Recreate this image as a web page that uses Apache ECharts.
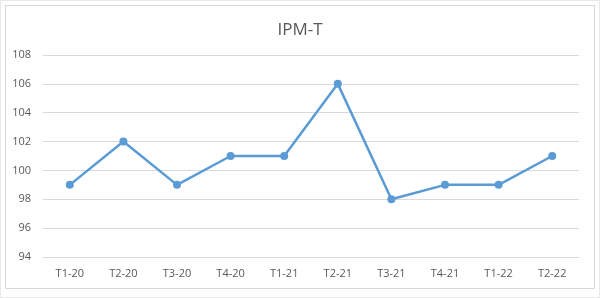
<!DOCTYPE html>
<html><head><meta charset="utf-8">
<script src="https://cdn.jsdelivr.net/npm/echarts@6/dist/echarts.min.js"></script>
<style>html,body{margin:0;padding:0;background:#fff}#c{width:600px;height:298px}</style>
</head><body><div id="c"></div>
<script>
const categories = ['T1-20','T2-20','T3-20','T4-20','T1-21','T2-21','T3-21','T4-21','T1-22','T2-22'];
const values = [99,102,99,101,101,106,98,99,99,101];
const titleText = 'IPM-T';
const chart = echarts.init(document.getElementById('c'));
chart.setOption({
  animation:false,
  backgroundColor:'#fff',
  title:{text:titleText,left:'center',top:17,textStyle:{fontFamily:'Open Sans',fontWeight:'normal',fontSize:17,color:'#595959'}},
  graphic:[
    {type:'rect',shape:{x:0.5,y:0.5,width:599,height:297},style:{fill:'none',stroke:'#e8e8e8',lineWidth:1},silent:true},
    {type:'rect',shape:{x:5.5,y:5.5,width:589,height:283},style:{fill:'none',stroke:'#d9d9d9',lineWidth:1},silent:true}
  ],
  grid:{left:43,right:21,top:55,bottom:41,containLabel:false},
  xAxis:{type:'category',data:categories,boundaryGap:true,
    axisLine:{lineStyle:{color:'#d9d9d9'}},axisTick:{show:false},
    axisLabel:{color:'#595959',fontFamily:'Open Sans',fontSize:11,margin:11}},
  yAxis:{type:'value',min:94,max:108,interval:2,
    axisLine:{show:false},axisTick:{show:false},
    splitLine:{lineStyle:{color:'#d9d9d9'}},
    axisLabel:{color:'#595959',fontFamily:'Open Sans',fontSize:11,margin:12}},
  series:[{type:'line',data:values,symbol:'circle',symbolSize:8,
    lineStyle:{color:'#5b9bd5',width:2.5},itemStyle:{color:'#5b9bd5'}}]
});
</script></body></html>
